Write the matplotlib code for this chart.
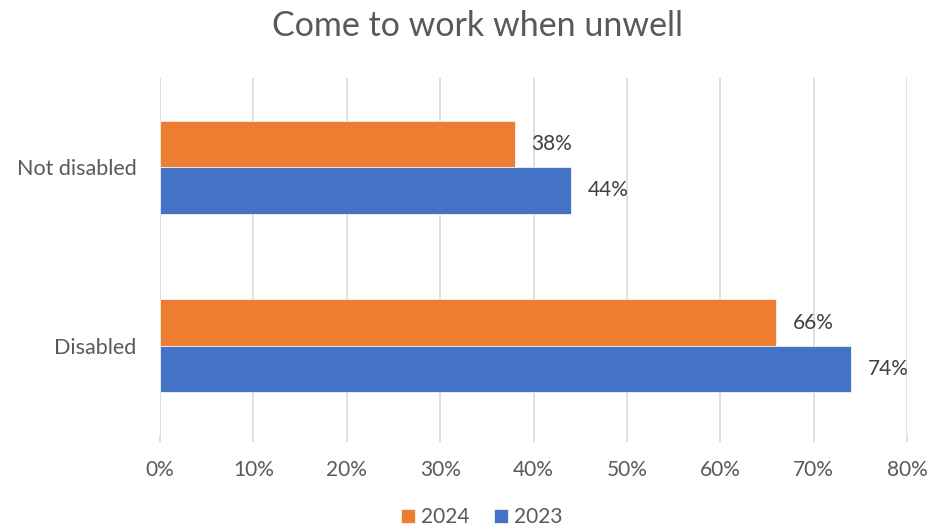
import matplotlib.pyplot as plt
import numpy as np

plt.rcParams['font.family'] = ['Lato', 'DejaVu Sans']

# 数据
categories = ['Disabled', 'Not disabled']
values_2024 = [66, 38]
values_2023 = [74, 44]
xticks = [0, 10, 20, 30, 40, 50, 60, 70, 80]

orange = '#ED7D31'
blue = '#4472C4'
grid_c = '#D9D9D9'
text_c = '#595959'

fig = plt.figure(figsize=(9.31, 5.29), dpi=100)
ax = fig.add_axes([160 / 931, 1 - 435 / 529, 747 / 931, 357 / 529])

y = np.arange(len(categories))
h = 0.26
b24 = ax.barh(y + h / 2, values_2024, height=h, color=orange, edgecolor='white',
              linewidth=0.5, label='2024', zorder=3)
b23 = ax.barh(y - h / 2, values_2023, height=h, color=blue, edgecolor='white',
              linewidth=0.5, label='2023', zorder=3)

# 数据标签
for bars in (b24, b23):
    ax.bar_label(bars, labels=[f'{v:.0f}%' for v in bars.datavalues],
                 padding=12, fontsize=15, color='#404040')

ax.set_xlim(0, 80)
ax.set_ylim(-0.5, 1.5)
ax.set_xticks(xticks)
ax.set_xticklabels([f'{t}%' for t in xticks])
ax.set_yticks(y)
ax.set_yticklabels(categories)

ax.grid(axis='x', color=grid_c, linewidth=1.2, zorder=0)
for s in ax.spines.values():
    s.set_visible(False)
ax.tick_params(axis='x', length=5, width=1.2, color=grid_c, labelsize=15,
               labelcolor=text_c, pad=13)
ax.tick_params(axis='y', length=0, labelsize=15.5, labelcolor=text_c, pad=17)

fig.text(478 / 931, 1 - 26 / 529, 'Come to work when unwell', ha='center', va='center',
         fontsize=24.5, color=text_c)

fig.legend(loc='center', bbox_to_anchor=(482 / 931, 1 - 517 / 529), ncol=2,
           frameon=False, fontsize=15, labelcolor=text_c, handlelength=0.65,
           handleheight=0.65, handletextpad=0.3, columnspacing=1.2)

plt.savefig('out.png', dpi=100)
